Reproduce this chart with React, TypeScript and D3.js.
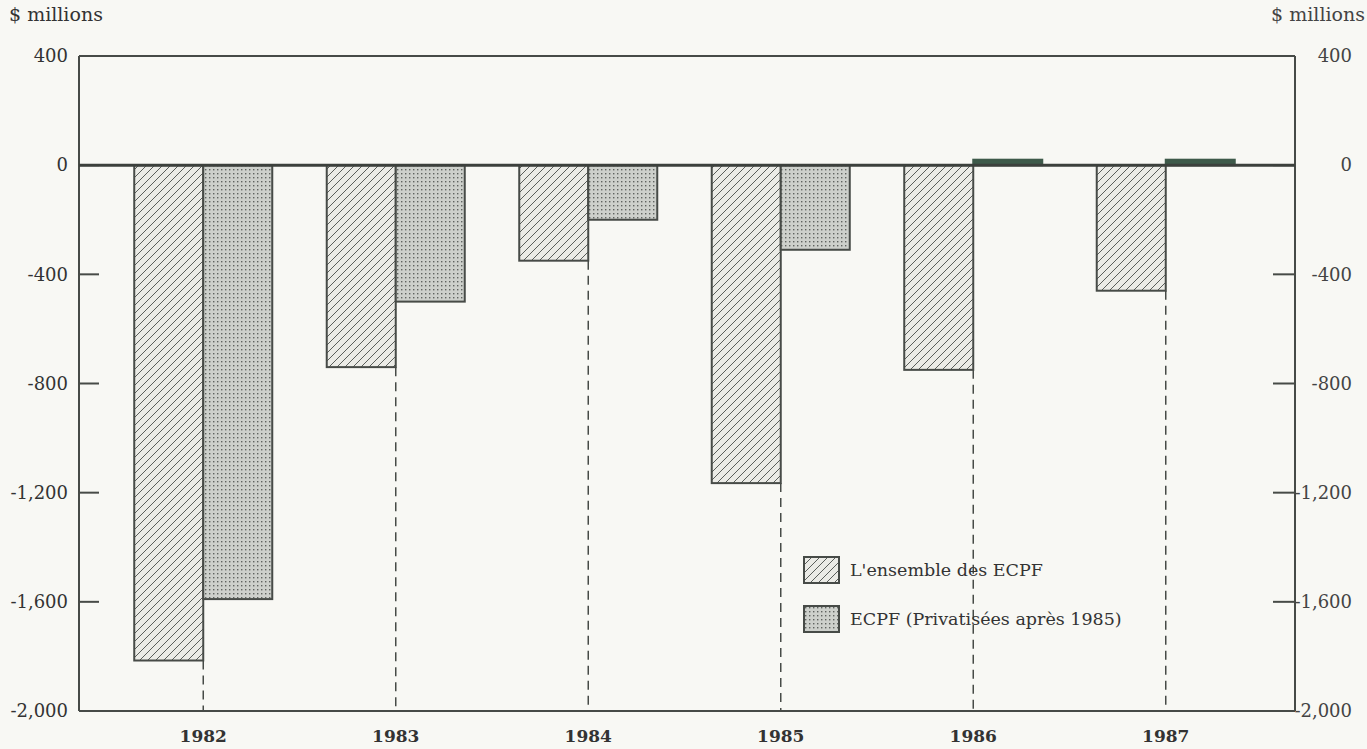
import * as d3 from "d3";

// values in $ millions
const years = ["1982", "1983", "1984", "1985", "1986", "1987"];
const ensemble = [-1815, -740, -350, -1165, -750, -460];
const privatisees = [-1590, -500, -200, -310, 20, 20];
const seriesNames = ["L'ensemble des ECPF", "ECPF (Privatisées après 1985)"];
const yTicks = [400, 0, -400, -800, -1200, -1600, -2000];

const W = 1367;
const H = 749;
const plot = { left: 79, right: 1295, top: 56, bottom: 711 };
const ink = "#474b47";
const font = "'DejaVu Serif', 'Liberation Serif', serif";

const App = () => {
  const x = d3
    .scaleBand<string>()
    .domain(years)
    .range([107, 1262])
    .paddingInner(0.283)
    .paddingOuter(0.1415);
  const xs = d3
    .scaleBand<number>()
    .domain([0, 1])
    .range([0, x.bandwidth()]);
  const y = d3.scaleLinear().domain([-2000, 400]).range([plot.bottom, plot.top]);
  // plain hyphen for negatives, like the print
  const fmt = (v: number) => d3.format(",")(v).replace("\u2212", "-");
  const series = [ensemble, privatisees];
  const fills = ["url(#hatch)", "url(#dots)"];

  return (
    <svg
      width={W}
      height={H}
      style={{ position: "absolute", left: 0, top: 0, background: "#f8f8f4" }}
      fontFamily={font}
    >
      <defs>
        <pattern id="hatch" patternUnits="userSpaceOnUse" width="8" height="8">
          <rect width="8" height="8" fill="#ebebe6" />
          <path d="M-2,2 L2,-2 M0,8 L8,0 M6,10 L10,6" stroke="#5a5e5a" strokeWidth="1" />
        </pattern>
        <pattern id="dots" patternUnits="userSpaceOnUse" width="4" height="4">
          <rect width="4" height="4" fill="#cdd0cb" />
          <rect x="1" y="1" width="1.4" height="1.4" fill="#5f635f" />
        </pattern>
      </defs>

      {/* frame */}
      <line x1={plot.left} x2={plot.right} y1={plot.top} y2={plot.top} stroke={ink} strokeWidth={2} />
      <line x1={plot.left} x2={plot.right} y1={plot.bottom} y2={plot.bottom} stroke={ink} strokeWidth={2} />
      <line x1={plot.left} x2={plot.left} y1={plot.top} y2={plot.bottom} stroke={ink} strokeWidth={2} />
      <line x1={plot.right} x2={plot.right} y1={plot.top} y2={plot.bottom} stroke={ink} strokeWidth={2} />

      {/* ticks and labels */}
      {yTicks.map((t) => (
        <g key={t}>
          <line x1={plot.left} x2={plot.left + 20} y1={y(t)} y2={y(t)} stroke={ink} strokeWidth={2} />
          <line x1={plot.right - 22} x2={plot.right} y1={y(t)} y2={y(t)} stroke={ink} strokeWidth={2} />
          <text x={68} y={y(t)} dy="0.35em" textAnchor="end" fontSize={18} fill="#333">
            {fmt(t)}
          </text>
          <text x={1352} y={y(t)} dy="0.35em" textAnchor="end" fontSize={18} fill="#444">
            {fmt(t)}
          </text>
        </g>
      ))}
      <text x={9} y={21} fontSize={19} fill="#333">$ millions</text>
      <text x={1365} y={21} fontSize={19} fill="#444" textAnchor="end">$ millions</text>

      {/* dashed drop lines */}
      {years.map((yr, i) => {
        const cx = (x(yr) ?? 0) + x.bandwidth() / 2;
        const low = Math.min(0, ensemble[i], privatisees[i]);
        return (
          <line
            key={yr}
            x1={cx}
            x2={cx}
            y1={y(low)}
            y2={plot.bottom}
            stroke={ink}
            strokeWidth={1.5}
            strokeDasharray="9,6"
          />
        );
      })}

      {/* bars */}
      {series.map((vals, s) =>
        vals.map((v, i) => {
          const bx = (x(years[i]) ?? 0) + (xs(s) ?? 0);
          const top = y(Math.max(0, v));
          const h = Math.abs(y(v) - y(0));
          return (
            <rect
              key={`${s}-${i}`}
              x={bx}
              y={top}
              width={xs.bandwidth()}
              height={h}
              fill={v > 0 ? "#3e5a4a" : fills[s]}
              stroke={v > 0 ? "#3e5a4a" : ink}
              strokeWidth={2}
            />
          );
        })
      )}

      {/* zero line */}
      <line x1={plot.left} x2={plot.right} y1={y(0)} y2={y(0)} stroke="#3c403c" strokeWidth={3} />

      {/* year labels */}
      {years.map((yr) => (
        <text
          key={yr}
          x={(x(yr) ?? 0) + x.bandwidth() / 2}
          y={742}
          textAnchor="middle"
          fontSize={17}
          fontWeight="bold"
          fill="#333"
        >
          {yr}
        </text>
      ))}

      {/* legend */}
      {seriesNames.map((name, s) => (
        <g key={name} transform={`translate(804, ${557 + s * 49})`}>
          <rect width={35} height={26} fill={fills[s]} stroke={ink} strokeWidth={2} />
          <text x={46} y={13} dy="0.35em" fontSize={17.5} fill="#333">
            {name}
          </text>
        </g>
      ))}
    </svg>
  );
};

export default App;
